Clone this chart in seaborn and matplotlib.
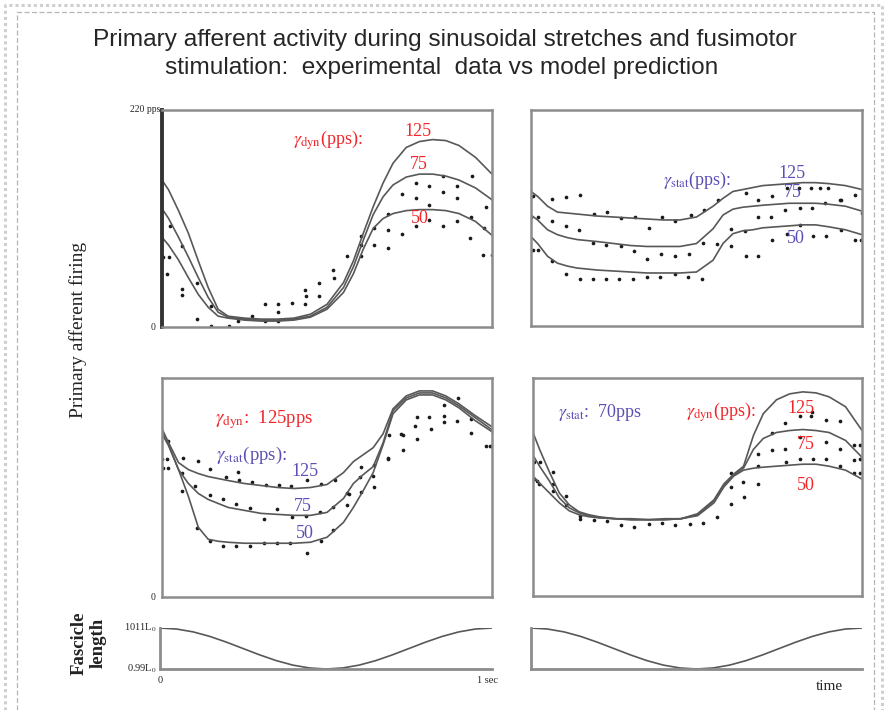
import pandas as pd
import seaborn as sns
import matplotlib.pyplot as plt
from matplotlib.lines import Line2D

# ---- data (time in s, firing in pps) ----
t_grid = [0, .02, .05, .08, .11, .14, .17, .20, .25, .30, .35, .40, .45, .50,
          .55, .58, .61, .64, .67, .70, .74, .78, .82, .86, .90, .95, 1.0]

# top-left: gamma dyn 125 / 75 / 50 pps
tl_125 = [149, 139, 118, 95, 67, 40, 18, 11, 9, 8, 8, 9, 13, 23,
          45, 67, 95, 122, 146, 166, 182, 188, 190, 189, 184, 172, 155]
tl_75 = [120, 110, 91, 71, 50, 30, 15, 10, 8, 7, 7, 8, 11, 20,
         40, 61, 88, 114, 132, 144, 152, 155, 155, 153, 149, 141, 129]
tl_50 = [91, 83, 68, 50, 33, 20, 11, 9, 7, 6, 6, 7, 10, 18,
         35, 54, 79, 100, 110, 115, 118, 119, 119, 118, 115, 107, 93]
tl_dot_t = [.004, .021, .024, .016, .062, .060, .060, .105, .105, .148, .148, .204, .231,
            .272, .312, .312, .351, .353, .353, .395, .433, .435, .433, .477, .475, .519,
            .522, .562, .602, .602, .602, .642, .642, .684, .684, .686, .726, .728, .770,
            .770, .770, .810, .810, .810, .853, .853, .853, .893, .893, .893, .933, .935,
            .938, .974, .977, .982, .999]
tl_dot_y = [71, 71, 102, 54, 82, 39, 32, 45, 8, 21, 1, 1, 6,
            11, 23, 6, 23, 15, 6, 24, 38, 31, 23, 45, 31, 58,
            50, 72, 92, 83, 72, 100, 83, 98, 80, 115, 94, 135, 146,
            131, 102, 143, 124, 108, 153, 137, 102, 143, 131, 107, 90, 112,
            153, 73, 100, 122, 73]

# top-right: gamma stat 125 / 75 / 50 pps
tr_125 = [137, 132, 122, 116, 115, 114, 113, 112, 111, 110, 109, 108, 108, 111,
          122, 130, 137, 139, 141, 143, 144, 145, 146, 146, 145, 143, 139]
tr_75 = [113, 108, 98, 93, 90, 88, 87, 86, 84, 82, 81, 81, 81, 84,
         99, 113, 119, 121, 122, 123, 124, 125, 125, 125, 124, 122, 117]
tr_50 = [91, 84, 71, 64, 61, 59, 58, 57, 56, 55, 54, 54, 54, 55,
         67, 84, 94, 97, 98, 100, 101, 102, 103, 103, 101, 98, 93]
tr_dot_t = [.007, .064, .106, .148, .190, .230, .271, .314, .357, .396, .436, .482, .522,
            .565, .651, .686, .728, .772, .810, .847, .874, .897, .938, .978,
            0, .022, .064, .105, .146, .186, .226, .271, .311, .351, .394, .435, .478,
            .520, .563, .603, .646, .686, .726, .768, .812, .849, .889, .935, 1.0,
            .005, .022, .062, .106, .148, .186, .226, .267, .309, .349, .389, .435, .475,
            .518, .603, .649, .686, .728, .772, .812, .852, .890, .938, .978, .998]
tr_dot_y = [132, 129, 131, 133, 114, 116, 110, 111, 100, 111, 107, 113, 118,
            128, 135, 128, 132, 141, 141, 141, 141, 141, 128, 133,
            111, 111, 107, 102, 98, 85, 83, 81, 76, 68, 73, 71, 73,
            85, 84, 99, 97, 111, 111, 118, 120, 120, 125, 128, 115,
            77, 77, 66, 53, 48, 48, 48, 48, 48, 50, 50, 53, 50,
            48, 81, 71, 71, 88, 94, 103, 92, 92, 98, 88, 88]

# bottom-left: gamma dyn 125 pps, gamma stat 125 / 75 / 50 pps
bl_125 = [169, 155, 135, 128, 124, 121, 119, 117, 114, 112, 110, 109, 110, 113,
          125, 136, 143, 150, 164, 189, 202, 207, 207, 202, 194, 182, 171]
bl_75 = [165, 153, 128, 114, 104, 98, 94, 90, 87, 84, 83, 82, 82, 85,
         99, 114, 123, 131, 155, 187, 200, 205, 205, 200, 192, 180, 168]
bl_50 = [164, 152, 128, 101, 70, 58, 56, 55, 54, 54, 54, 54, 55, 60,
         75, 90, 107, 125, 153, 184, 198, 203, 203, 198, 190, 177, 166]
bl_dot_t = [0, .014, .004, .019, .019, .065, .108, .144, .195, .230, .232, .273, .316,
            .354, .391, .438, .483, .524, .604, .643, .687, .731, .772, .810, .856, .856,
            .897, .935, .981, 1.0, .060, .100, .144, .185, .225, .268, .310, .349, .395,
            .435, .479, .519, .562, .600, .640, .684, .724, .729, .768, .772, .815, .854,
            .893, .935, .993, .060, .105, .146, .185, .225, .268, .308, .347, .389, .440,
            .481, .519, .560, .567, .604, .643, .684]
bl_dot_y = [139, 139, 130, 130, 157, 140, 137, 129, 121, 126, 118, 116, 113,
            113, 112, 118, 114, 118, 131, 133, 163, 163, 181, 181, 182, 193,
            200, 179, 152, 152, 125, 112, 102, 98, 93, 89, 78, 88, 80,
            81, 85, 90, 104, 121, 122, 140, 164, 148, 172, 159, 169, 176,
            177, 165, 152, 106, 69, 56, 51, 51, 51, 54, 54, 54, 44,
            56, 67, 92, 103, 105, 111, 139]

# bottom-right: gamma stat 70 pps, gamma dyn 125 / 75 / 50 pps
br_125 = [165, 148, 125, 104, 92, 85, 82, 80, 78, 78, 77, 78, 78, 83,
          97, 113, 123, 131, 162, 184, 198, 204, 206, 205, 201, 191, 167]
br_75 = [142, 131, 116, 99, 89, 84, 81, 79, 78, 77, 77, 77, 78, 82,
         96, 112, 122, 129, 148, 159, 165, 167, 168, 167, 165, 157, 140]
br_50 = [121, 114, 104, 94, 86, 82, 80, 79, 78, 77, 77, 77, 78, 81,
         94, 110, 121, 127, 129, 130, 131, 132, 133, 133, 131, 127, 118]
br_dot_t = [.002, .022, .002, .012, .017, .060, .060, .060, .101, .101, .143, .143,
            .186, .226, .267, .307, .354, .391, .432, .477, .518, .560, .601, .601,
            .601, .637, .641, .683, .685, .685, .727, .727, .765, .767, .770, .811,
            .811, .811, .846, .851, .890, .890, .890, .934, .934, .934, .976, .976,
            .976, .993, .995, .995, .849]
br_dot_y = [135, 135, 118, 116, 113, 125, 113, 106, 101, 92, 81, 78,
            77, 76, 72, 70, 73, 74, 72, 73, 74, 80, 124, 110,
            93, 115, 100, 131, 113, 143, 147, 164, 148, 175, 135, 182,
            160, 138, 182, 138, 178, 155, 138, 177, 148, 131, 152, 137,
            124, 152, 138, 124, 186]

# fascicle length (L0) over one stretch cycle
len_t = [0, .05, .10, .15, .20, .25, .30, .35, .40, .45, .50,
         .55, .60, .65, .70, .75, .80, .85, .90, .95, 1.0]
len_L = [1.0100, 1.0095, 1.0081, 1.0059, 1.0031, 1.0000, 0.9969, 0.9941, 0.9919, 0.9905, 0.9900,
         0.9905, 0.9919, 0.9941, 0.9969, 1.0000, 1.0031, 1.0059, 1.0081, 1.0095, 1.0100]

RED = '#f0262a'
BLUE = '#5a4fb5'
FRAME = '#8c8c8c'
CURVE = '#585858'
SERIF = 'Liberation Serif'

sns.set_style('white')
plt.rcParams['font.family'] = [SERIF, 'DejaVu Sans']
plt.rcParams['mathtext.fontset'] = 'stix'

W, H = 892, 710
fig = plt.figure(figsize=(W / 100, H / 100), dpi=100)


def box(x0, y0, x1, y1):
    # pixel box -> figure fraction
    return [x0 / W, 1 - y1 / H, (x1 - x0) / W, (y1 - y0) / H]


def panel(rect, curves, dot_t, dot_y):
    ax = fig.add_axes(rect)
    df = pd.DataFrame({
        't': t_grid * len(curves),
        'pps': [v for c in curves for v in c],
        'run': [i for i, c in enumerate(curves) for _ in c],
    })
    sns.lineplot(data=df, x='t', y='pps', units='run', estimator=None,
                 color=CURVE, lw=1.2, sort=False, ax=ax)
    sns.scatterplot(x=dot_t, y=dot_y, color='#1a1a1a', s=7, linewidth=0, ax=ax)
    ax.set_xlim(0, 1)
    ax.set_ylim(0, 220)
    ax.set_xticks([])
    ax.set_yticks([])
    ax.set_xlabel('')
    ax.set_ylabel('')
    for sp in ax.spines.values():
        sp.set_visible(True)
        sp.set_color(FRAME)
        sp.set_linewidth(1.8)
    return ax


ax_tl = panel(box(162, 110, 492, 327), [tl_125, tl_75, tl_50], tl_dot_t, tl_dot_y)
ax_tr = panel(box(531, 110, 862, 326), [tr_125, tr_75, tr_50], tr_dot_t, tr_dot_y)
ax_bl = panel(box(162, 378, 492, 597), [bl_125, bl_75, bl_50], bl_dot_t, bl_dot_y)
ax_br = panel(box(533, 378, 862, 596), [br_125, br_75, br_50], br_dot_t, br_dot_y)
ax_tl.spines['left'].set_color('#333333')
ax_tl.spines['left'].set_linewidth(2.8)

# annotations
fs = 13
ax_tl.text(0.503, 0.862, r'$\gamma_{\rm dyn}$(pps):', color=RED, fontsize=fs,
           ha='center', va='center', transform=ax_tl.transAxes)
for s, x, y in [('125', 0.776, 0.899), ('75', 0.779, 0.751), ('50', 0.782, 0.498)]:
    ax_tl.text(x, y, s, color=RED, fontsize=fs, ha='center', va='center',
               transform=ax_tl.transAxes)

ax_tr.text(0.502, 0.676, r'$\gamma_{\rm stat}$(pps):', color=BLUE, fontsize=fs,
           ha='center', va='center', transform=ax_tr.transAxes)
for s, x, y in [('125', 0.789, 0.708), ('75', 0.792, 0.616), ('50', 0.801, 0.407)]:
    ax_tr.text(x, y, s, color=BLUE, fontsize=fs, ha='center', va='center',
               transform=ax_tr.transAxes)

ax_bl.text(0.31, 0.808, r'$\gamma_{\rm dyn}$:  125pps', color=RED, fontsize=fs + 0.5,
           ha='center', va='center', transform=ax_bl.transAxes)
ax_bl.text(0.27, 0.648, r'$\gamma_{\rm stat}$(pps):', color=BLUE, fontsize=fs + 0.5,
           ha='center', va='center', transform=ax_bl.transAxes)
for s, x, y in [('125', 0.433, 0.571), ('75', 0.427, 0.411), ('50', 0.433, 0.288)]:
    ax_bl.text(x, y, s, color=BLUE, fontsize=fs, ha='center', va='center',
               transform=ax_bl.transAxes)

ax_br.text(0.204, 0.844, r'$\gamma_{\rm stat}$:  70pps', color=BLUE, fontsize=fs,
           ha='center', va='center', transform=ax_br.transAxes)
ax_br.text(0.571, 0.844, r'$\gamma_{\rm dyn}$(pps):', color=RED, fontsize=fs,
           ha='center', va='center', transform=ax_br.transAxes)
for s, x, y in [('125', 0.815, 0.858), ('75', 0.83, 0.693), ('50', 0.83, 0.505)]:
    ax_br.text(x, y, s, color=RED, fontsize=fs, ha='center', va='center',
               transform=ax_br.transAxes)

# small axis labels
ax_tl.text(-0.005, 1.0, '220 pps', fontsize=7, ha='right', va='center',
           transform=ax_tl.transAxes)
ax_tl.text(-0.02, 0.0, '0', fontsize=7, ha='right', va='center', transform=ax_tl.transAxes)
ax_bl.text(-0.02, 0.0, '0', fontsize=7, ha='right', va='center', transform=ax_bl.transAxes)

# fascicle length panels
for rect, with_labels in [(box(160, 628, 492, 669), True), (box(531, 628, 862, 669), False)]:
    ax = fig.add_axes(rect)
    sns.lineplot(x=len_t, y=len_L, color=CURVE, lw=1.2, ax=ax)
    ax.set_xlim(0, 1)
    ax.set_ylim(0.99, 1.01)
    ax.set_xticks([])
    ax.set_yticks([])
    ax.patch.set_alpha(0)
    for k in ['top', 'right']:
        ax.spines[k].set_visible(False)
    for k in ['left', 'bottom']:
        ax.spines[k].set_visible(True)
        ax.spines[k].set_color(FRAME)
        ax.spines[k].set_linewidth(2)
    if with_labels:
        ax.text(-0.01, 1.0, r'1011L$_0$', fontsize=7.5, ha='right', va='center',
                transform=ax.transAxes)
        ax.text(-0.01, 0.0, r'0.99L$_0$', fontsize=7.5, ha='right', va='center',
                transform=ax.transAxes)
        ax.text(0.0, -0.27, '0', fontsize=7.5, ha='center', va='center',
                transform=ax.transAxes)
        ax.text(0.985, -0.27, '1 sec', fontsize=7.5, ha='center', va='center',
                transform=ax.transAxes)
    else:
        ax.text(0.9, -0.42, 'time', fontsize=11, ha='center', va='center',
                transform=ax.transAxes)

# figure-level labels
fig.text(78 / W, 1 - 330 / H, 'Primary afferent firing', rotation=90, fontsize=14,
         ha='center', va='center', color='#222222')
fig.text(79 / W, 1 - 643 / H, 'Fascicle', rotation=90, fontsize=13.5, fontweight='bold',
         ha='center', va='center', color='#222222')
fig.text(98 / W, 1 - 643 / H, 'length', rotation=90, fontsize=13.5, fontweight='bold',
         ha='center', va='center', color='#222222')

title_kw = dict(ha='center', va='center', fontsize=17.6, color='#262626',
                family=['Liberation Sans', 'DejaVu Sans'])
fig.text(445 / W, 1 - 40 / H, 'Primary afferent activity during sinusoidal stretches and fusimotor',
         **title_kw)
fig.text(442 / W, 1 - 68 / H, 'stimulation:  experimental  data vs model prediction', **title_kw)

# page borders (dotted outer, dashed inner)
def border(x0, y0, x1, style, color, lw):
    xs = [x0 / W, x0 / W, x1 / W, x1 / W]
    ys = [0, 1 - y0 / H, 1 - y0 / H, 0]
    fig.add_artist(Line2D(xs, ys, transform=fig.transFigure, ls=style, color=color, lw=lw))


border(5, 5, 882, (0, (1, 1)), '#cfcfcf', 2.2)
border(17, 12, 874, (0, (4, 2)), '#b5b5b5', 0.9)

fig.savefig('out.png', dpi=100)
